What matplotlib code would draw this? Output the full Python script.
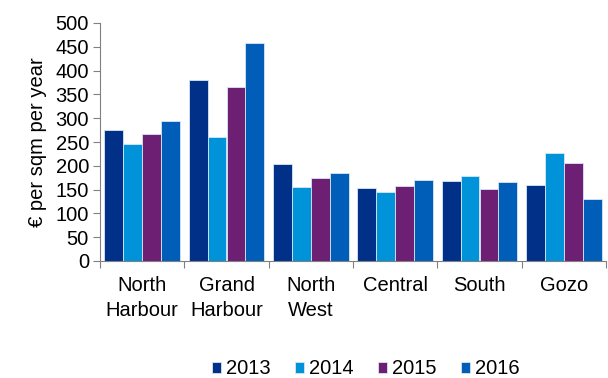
import matplotlib
matplotlib.use("Agg")
import matplotlib.pyplot as plt
import numpy as np

plt.rcParams['font.family'] = ['Liberation Sans', 'DejaVu Sans']

categories = ["North\nHarbour", "Grand\nHarbour", "North\nWest", "Central", "South", "Gozo"]
years = ["2013", "2014", "2015", "2016"]
v2013 = [275, 381, 204, 154, 169, 159]
v2014 = [245, 260, 156, 145, 178, 227]
v2015 = [267, 365, 174, 157, 151, 206]
v2016 = [294, 458, 184, 171, 166, 130]
series = [v2013, v2014, v2015, v2016]
colors = ["#003087", "#0093DA", "#6C1F73", "#005EB8"]
fs = 14.5

fig = plt.figure(figsize=(6.08, 3.78), dpi=100)
ax = fig.add_axes([100/608, 1-261/378, 506/608, 238/378])

x = np.arange(len(categories))
w = 0.225
for i, (vals, c, lab) in enumerate(zip(series, colors, years)):
    ax.bar(x + (i - 1.5) * w, vals, width=w, color=c, label=lab,
           edgecolor="#d8e6f5", linewidth=0.6)

ax.set_xlim(-0.5, len(categories) - 0.5)
ax.set_ylim(0, 500)
ax.set_yticks(range(0, 501, 50))
ax.set_xticks(np.arange(-0.5, len(categories), 1.0))
ax.set_xticklabels([])
ax.set_xticks(x, minor=True)
ax.set_xticklabels(categories, minor=True, fontsize=fs, linespacing=1.35)
ax.tick_params(axis='x', which='minor', length=0, pad=11)
ax.tick_params(axis='x', which='major', length=5, color="#808080", direction='out')
ax.tick_params(axis='y', length=5, color="#808080", labelsize=fs, pad=3)
for s in ["top", "right"]:
    ax.spines[s].set_visible(False)
for s in ["left", "bottom"]:
    ax.spines[s].set_color("#808080")
ax.set_ylabel("€ per sqm per year", fontsize=fs, labelpad=6)

fig.legend(loc="center", bbox_to_anchor=(366/608, 1-369/378), ncol=4, frameon=False,
           fontsize=fs, handlelength=0.45, handleheight=0.45, handletextpad=0.25,
           columnspacing=1.2, borderpad=0, borderaxespad=0)

fig.savefig("out.png", dpi=100)
